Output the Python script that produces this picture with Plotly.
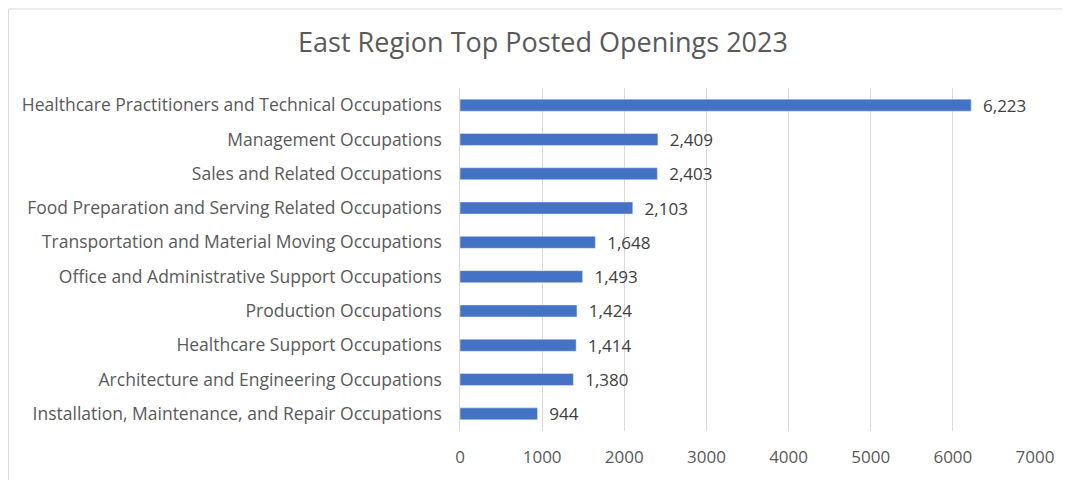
import plotly.graph_objects as go

categories = [
    "Healthcare Practitioners and Technical Occupations",
    "Management Occupations",
    "Sales and Related Occupations",
    "Food Preparation and Serving Related Occupations",
    "Transportation and Material Moving Occupations",
    "Office and Administrative Support Occupations",
    "Production Occupations",
    "Healthcare Support Occupations",
    "Architecture and Engineering Occupations",
    "Installation, Maintenance, and Repair Occupations",
]
openings = [6223, 2409, 2403, 2103, 1648, 1493, 1424, 1414, 1380, 944]
x_ticks = [0, 1000, 2000, 3000, 4000, 5000, 6000, 7000]

# the page body has an 8px margin, so lay out in a slightly smaller box
OX, OY = 8, 8
W, H = 1070 - OX, 480 - OY
L, R, T, B = 460 - OX, 35, 88 - OY, 47
pw, ph = W - L - R, H - T - B

fig = go.Figure(
    go.Bar(
        x=openings,
        y=categories,
        orientation="h",
        marker_color="#4472C4",
        width=0.35,
        text=[f"  {v:,}" for v in openings],
        textposition="outside",
        constraintext="none",
        textfont=dict(size=17, color="#404040"),
        cliponaxis=False,
    )
)

fig.update_layout(
    width=W,
    height=H,
    margin=dict(l=L, r=R, t=T, b=B),
    paper_bgcolor="white",
    plot_bgcolor="white",
    font=dict(family="Open Sans, sans-serif", size=17, color="#595959"),
    title=dict(
        text="East Region Top Posted Openings 2023",
        x=(543 - OX) / W,
        xanchor="center",
        xref="container",
        y=1 - (43 - OY) / H,
        yanchor="middle",
        yref="container",
        font=dict(size=27, color="#595959"),
    ),
    showlegend=False,
)

fig.update_xaxes(
    range=[0, 7000],
    tickvals=x_ticks,
    showgrid=True,
    gridcolor="#d9d9d9",
    gridwidth=1,
    zeroline=False,
    showline=False,
    ticks="",
    ticklabelstandoff=14,
    tickfont=dict(size=17, color="#595959"),
)
fig.update_yaxes(
    autorange="reversed",
    showgrid=False,
    showline=True,
    linecolor="#d9d9d9",
    linewidth=1,
    ticks="",
    ticksuffix="   ",
    tickfont=dict(size=17.5, color="#595959"),
)

# faint chart border like the Excel chart area
fig.add_shape(
    type="rect",
    xref="paper",
    yref="paper",
    x0=(0.5 - L) / pw,
    x1=(W + 5 - L) / pw,
    y0=-(B + 5) / ph,
    y1=(ph + T - 0.5) / ph,
    line=dict(color="#d9d9d9", width=1),
    fillcolor="rgba(0,0,0,0)",
    layer="below",
)

fig.write_html("out.html")
